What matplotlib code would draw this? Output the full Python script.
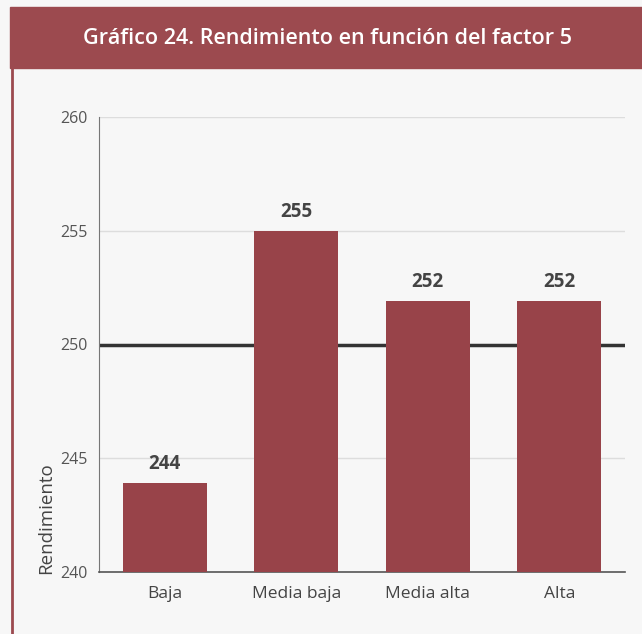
import matplotlib.pyplot as plt
from matplotlib.patches import Rectangle
from matplotlib.lines import Line2D

# --- Data ---
categories = ["Baja", "Media baja", "Media alta", "Alta"]
values = [243.9, 255.0, 251.9, 251.9]
value_labels = ["244", "255", "252", "252"]
reference = 250

bar_color = "#984349"
frame_color = "#9C4A4F"
text_gray = "#555555"

plt.rcParams["font.family"] = ["Open Sans", "DejaVu Sans"]

fig = plt.figure(figsize=(6.42, 6.34), dpi=100)
fig.patch.set_facecolor("#F7F7F7")

# --- Title bar and left border ---
fig.patches.append(Rectangle((10 / 642, 1 - 68 / 634), 1, 61 / 634,
                             transform=fig.transFigure, color=frame_color, zorder=0))
fig.add_artist(Line2D([12 / 642, 12 / 642], [0, 1 - 68 / 634],
                      transform=fig.transFigure, color=frame_color, lw=2))
fig.text(328 / 642, 1 - 38 / 634, "Gráfico 24. Rendimiento en función del factor 5",
         ha="center", va="center", color="white", fontsize=15.5, fontweight="semibold")

# --- Axes ---
ax = fig.add_axes([99 / 642, 1 - 572 / 634, 526 / 642, 455 / 634])
ax.set_facecolor("none")
x = range(len(categories))
bars = ax.bar(x, values, width=0.64, color=bar_color, zorder=3)
ax.set_ylim(240, 260)
ax.set_xlim(-0.5, len(categories) - 0.5)
ax.set_yticks([240, 245, 250, 255, 260])
ax.yaxis.grid(True, color="#DDDDDD", lw=1, zorder=0)
ax.axhline(reference, color="#333333", lw=2.5, zorder=2)

for xi, v, lab in zip(x, values, value_labels):
    ax.text(xi, v + 0.4, lab, ha="center", va="bottom",
            fontsize=13.5, fontweight="bold", color="#444444")

ax.set_xticks(list(x))
ax.set_xticklabels(categories, fontsize=12.5, color="#444444")
ax.tick_params(axis="y", labelsize=11.5, labelcolor=text_gray, length=0, pad=8)
ax.tick_params(axis="x", length=0, pad=10)
for s in ["top", "right"]:
    ax.spines[s].set_visible(False)
ax.spines["left"].set_color("#777777")
ax.spines["bottom"].set_color("#555555")
ax.spines["bottom"].set_linewidth(1.2)

fig.text(46 / 642, 1 - 518 / 634, "Rendimiento", rotation=90, ha="center", va="center",
         fontsize=13.5, color="#444444")

fig.savefig("out.png", dpi=100, facecolor=fig.get_facecolor())
